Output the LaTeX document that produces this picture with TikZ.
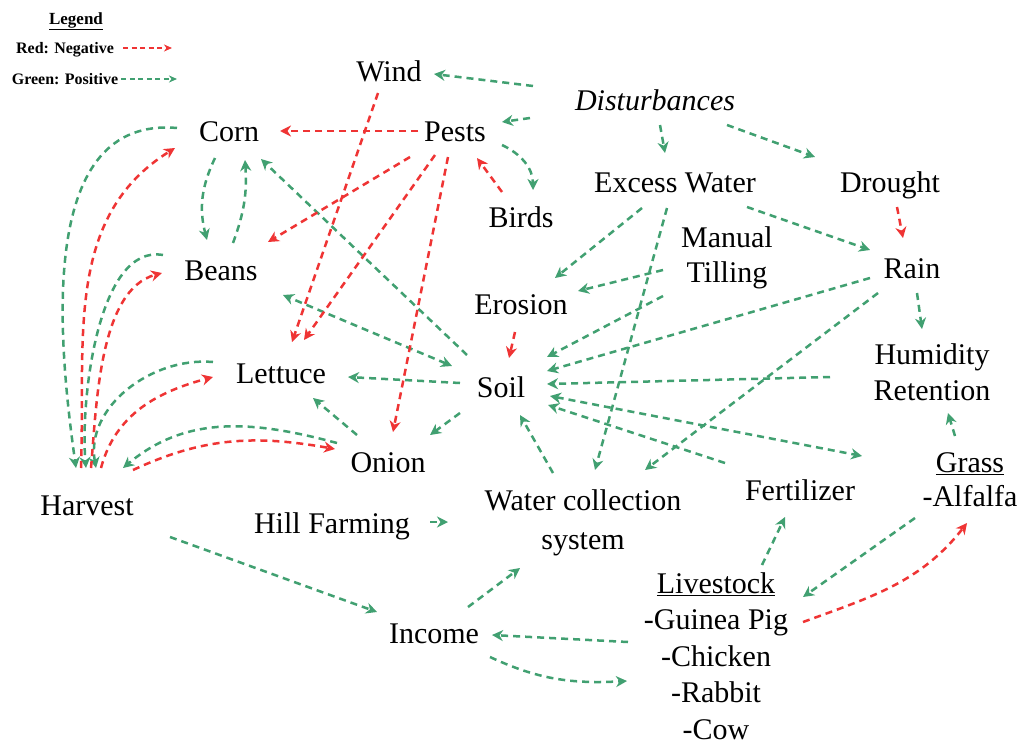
\documentclass[tikz,border=0pt]{standalone}
\usepackage{fontspec}
\setmainfont{Liberation Serif}
\usetikzlibrary{arrows.meta,calc}
\definecolor{gcol}{HTML}{41A071}
\definecolor{rcol}{HTML}{EF3434}
\begin{document}
\begin{tikzpicture}[x=1pt,y=1pt,
  >={Stealth[length=11pt,width=11pt,inset=3.5pt]},
  lbl/.style={inner sep=0pt, align=center, font=\fontsize{30}{36}\selectfont},
  one/.style={lbl, text height=20.5pt, text depth=0pt},
  posarr/.style={draw=gcol, line width=2.5pt, dash pattern=on 7pt off 5pt, ->},
  negarr/.style={posarr, draw=rcol},
  legtxt/.style={inner sep=0pt, text height=11pt, text depth=0pt, font=\fontsize{16}{19}\selectfont\bfseries},
  legposarr/.style={draw=gcol, line width=1.4pt, dash pattern=on 5pt off 3.5pt, -{Stealth[length=8pt,width=7pt,inset=2.5pt]}},
  legnegarr/.style={legposarr, draw=rcol}]

\fill[white] (0,0) rectangle (1025,-747);
\useasboundingbox (0,0) rectangle (1025,-747);

% legend
\node[inner sep=0pt, text height=12pt, text depth=0pt, font=\fontsize{17}{20}\selectfont\bfseries] (legend) at (76,-18) {\underline{Legend}};
\node[legtxt] (negtxt) at (65,-48) {Red: Negative};
\node[legtxt] (postxt) at (65,-79) {Green: Positive};
\coordinate (negend) at (172,-48);
\coordinate (posend) at (177,-79);
\draw[legnegarr] ($(negtxt.east)+(9,0)$) -- (negend);
\draw[legposarr] ($(postxt.east)+(3,0)$) -- (posend);

% nodes
\node[one] (wind) at (389,-71) {Wind};
\node[one, font=\fontsize{30}{36}\selectfont\itshape] (dist) at (655,-100) {Disturbances};
\node[one] (corn) at (229,-131) {Corn};
\node[one] (pests) at (455,-131) {Pests};
\node[one] (excess) at (675,-182) {Excess Water};
\node[one] (drought) at (890,-182) {Drought};
\node[one] (birds) at (521,-217) {Birds};
\node[lbl, font=\fontsize{30}{35}\selectfont] (till) at (727,-258) {Manual\\Tilling};
\node[one] (beans) at (221,-270) {Beans};
\node[one] (rain) at (912,-268) {Rain};
\node[one] (erosion) at (521,-304) {Erosion};
\node[lbl] (humid) at (932,-372) {Humidity\\Retention};
\node[one] (lettuce) at (281,-373) {Lettuce};
\node[one] (soil) at (501,-387) {Soil};
\node[one] (onion) at (388,-462) {Onion};
\node[one] (harvest) at (87,-505) {Harvest};
\node[lbl, font=\fontsize{30}{39}\selectfont] (water) at (583,-523) {Water collection\\system};
\node[one] (fert) at (800,-490) {Fertilizer};
\node[lbl, font=\fontsize{30}{34}\selectfont] (grass) at (970,-480) {\underline{Grass}\\-Alfalfa};
\node[one] (hill) at (332,-523) {Hill Farming};
\node[lbl, font=\fontsize{30}{36.5}\selectfont] (live) at (716,-656) {\underline{Livestock}\\-Guinea Pig\\-Chicken\\-Rabbit\\-Cow};
\node[one] (income) at (434,-633) {Income};

% positive (green)
\draw[posarr] ($(dist)+(-122,14)$) -- ($(wind)+(45,-3)$);
\draw[posarr] ($(dist)+(-125,-18)$) -- ($(pests)+(47,9)$);
\draw[posarr] ($(dist)+(5,-25)$) -- ($(excess)+(-10,29)$);
\draw[posarr] ($(dist)+(72,-25)$) -- ($(drought)+(-75,25)$);
\draw[posarr] ($(pests)+(47,-14)$) to[out=-25,in=90] ($(birds)+(12,27)$);
\draw[posarr] ($(excess)+(-33,-26)$) -- ($(erosion)+(34,26)$);
\draw[posarr] ($(excess)+(-8,-26)$) -- ($(water)+(12,53)$);
\draw[posarr] ($(excess)+(72,-25)$) -- ($(rain)+(-42,18)$);
\draw[posarr] ($(till)+(-64,-12)$) -- ($(erosion)+(57,13)$);
\draw[posarr] ($(till)+(-64,-38)$) -- ($(soil)+(46,30)$);
\draw[posarr] ($(rain)+(-42,-10)$) -- ($(soil)+(46,16)$);
\draw[posarr] ($(rain)+(-34,-25)$) -- ($(water)+(62,53)$);
\draw[posarr] ($(humid)+(-102,-5)$) -- ($(soil)+(46,3)$);
\draw[posarr,<->] ($(soil)+(49,-9)$) -- ($(grass)+(-108,24)$);
\draw[posarr] ($(fert)+(-75,27)$) -- ($(soil)+(47,-18)$);
\draw[posarr] ($(water)+(-30,50)$) -- ($(soil)+(19,-28)$);
\draw[posarr] ($(soil)+(-41,-26)$) -- ($(onion)+(42,27)$);
\draw[posarr] ($(soil)+(-41,4)$) -- ($(lettuce)+(67,-4)$);
\draw[posarr] ($(soil)+(-34,32)$) -- ($(corn)+(32,-28)$);
\draw[posarr,<->] ($(soil)+(-49,21)$) -- ($(beans)+(62,-25)$);
\draw[posarr] ($(onion)+(-31,27)$) -- ($(lettuce)+(32,-25)$);
\draw[posarr] ($(corn)+(-14,-27)$) to[bend right=20] ($(beans)+(-14,30)$);
\draw[posarr] ($(beans)+(12,27)$) to[bend right=12] ($(corn)+(16,-29)$);
\draw[posarr] ($(corn)+(-52,3)$) to[out=175,in=98] ($(harvest)+(-11,37)$);
\draw[posarr] ($(beans)+(-58,15)$) to[out=170,in=95,looseness=0.75] ($(harvest)+(-1,37)$);
\draw[posarr] ($(lettuce)+(-68,11)$) to[out=175,in=100] ($(harvest)+(9,37)$);
\draw[posarr] ($(onion)+(-51,19)$) to[out=165,in=40] ($(harvest)+(36,37)$);
\draw[posarr] ($(harvest)+(83,-32)$) -- ($(income)+(-57,21)$);
\draw[posarr] ($(income)+(34,26)$) -- ($(water)+(-63,-45)$);
\draw[posarr] ($(live)+(-88,14)$) -- ($(income)+(58,-2)$);
\draw[posarr] ($(income)+(56,-24)$) to[out=-25,in=183] ($(live)+(-89,-25)$);
\draw[posarr] ($(hill)+(98,1)$) -- ($(water)+(-135,1)$);
\draw[posarr] ($(live)+(46,91)$) -- ($(fert)+(-15,-27)$);
\draw[posarr] ($(grass)+(-55,-38)$) -- ($(live)+(87,59)$);
\draw[posarr] ($(rain)+(5,-25)$) -- ($(humid)+(-10,43)$);
\draw[posarr] ($(grass)+(-15,44)$) -- ($(humid)+(16,-41)$);

% negative (red)
\draw[negarr] ($(pests)+(-37,0)$) -- ($(corn)+(51,0)$);
\draw[negarr] ($(pests)+(-45,-26)$) -- ($(beans)+(47,28)$);
\draw[negarr] ($(wind)+(-11,-22)$) -- ($(lettuce)+(11,31)$);
\draw[negarr] ($(pests)+(-20,-24)$) -- ($(lettuce)+(23,33)$);
\draw[negarr] ($(pests)+(-7,-26)$) -- ($(onion)+(5,30)$);
\draw[negarr] ($(birds)+(-19,25)$) -- ($(pests)+(22,-27)$);
\draw[negarr] ($(drought)+(7,-25)$) -- ($(rain)+(-9,30)$);
\draw[negarr] ($(erosion)+(-6,-28)$) -- ($(soil)+(8,29)$);
\draw[negarr] ($(harvest)+(-6,37)$) to[out=88,in=212] ($(corn)+(-54,-17)$);
\draw[negarr] ($(harvest)+(4,37)$) to[out=85,in=195,looseness=0.8] ($(beans)+(-59,-3)$);
\draw[negarr] ($(harvest)+(14,37)$) to[out=75,in=195] ($(lettuce)+(-68,-4)$);
\draw[negarr] ($(harvest)+(46,35)$) to[out=25,in=170] ($(onion)+(-53,13)$);
\draw[negarr] ($(live)+(87,34)$) to[out=20,in=-128] ($(grass)+(-3,-43)$);
\end{tikzpicture}
\end{document}
